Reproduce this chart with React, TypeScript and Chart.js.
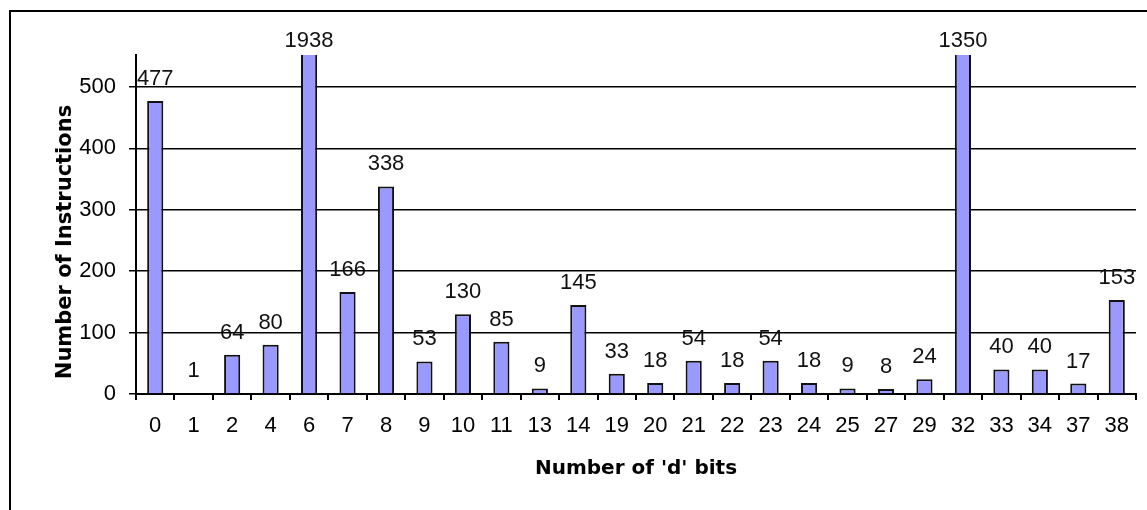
import React, { useEffect, useRef } from "react";
import { Chart, registerables } from "chart.js";

Chart.register(...registerables);

const categories = ["0", "1", "2", "4", "6", "7", "8", "9", "10", "11", "13", "14", "19", "20", "21", "22", "23", "24", "25", "27", "29", "32", "33", "34", "37", "38"];
const counts = [477, 1, 64, 80, 1938, 166, 338, 53, 130, 85, 9, 145, 33, 18, 54, 18, 54, 18, 9, 8, 24, 1350, 40, 40, 17, 153];
const yTickValues = [0, 100, 200, 300, 400, 500];
const yMax = 552;
const xTitle = "Number of 'd' bits";
const yTitle = "Number of Instructions";

const W = 1147;
const H = 510;
const numFont = "'Liberation Sans', Arial, sans-serif";
const titleFont = "'DejaVu Sans', Verdana, sans-serif";

const framePlugin = {
  id: "frame",
  beforeDraw(chart: any) {
    const ctx = chart.ctx;
    ctx.save();
    ctx.strokeStyle = "#000";
    ctx.lineWidth = 2;
    ctx.beginPath();
    ctx.moveTo(10, H);
    ctx.lineTo(10, 11);
    ctx.lineTo(W, 11);
    ctx.stroke();
    ctx.restore();
  },
};

const valueLabelPlugin = {
  id: "valueLabels",
  afterDatasetsDraw(chart: any) {
    const ctx = chart.ctx;
    const meta = chart.getDatasetMeta(0);
    const data = chart.data.datasets[0].data as number[];
    ctx.save();
    ctx.font = `22px ${numFont}`;
    ctx.fillStyle = "#111";
    ctx.textAlign = "center";
    ctx.textBaseline = "alphabetic";
    meta.data.forEach((el: any, i: number) => {
      const v = data[i];
      const y = v > yMax ? chart.chartArea.top - 8 : el.y - 16;
      ctx.fillText(String(v), el.x, y);
    });
    ctx.restore();
  },
};

const yTitlePlugin = {
  id: "yTitleDraw",
  afterDraw(chart: any) {
    const ctx = chart.ctx;
    ctx.save();
    ctx.translate(71, 242);
    ctx.rotate(-Math.PI / 2);
    ctx.font = `bold 21px ${titleFont}`;
    ctx.fillStyle = "#000";
    ctx.textAlign = "center";
    ctx.textBaseline = "alphabetic";
    ctx.fillText(yTitle, 0, 0);
    ctx.restore();
  },
};

export default function App() {
  const ref = useRef<HTMLCanvasElement | null>(null);

  useEffect(() => {
    if (!ref.current) return;
    const chart = new Chart(ref.current, {
      type: "bar",
      data: {
        labels: categories,
        datasets: [
          {
            data: counts,
            backgroundColor: "#9999FF",
            borderColor: "#111",
            borderWidth: 2,
            borderSkipped: "start",
            barPercentage: 0.42,
            categoryPercentage: 1,
          },
        ],
      },
      options: {
        responsive: false,
        animation: false,
        devicePixelRatio: 1,
        layout: { padding: { top: 55, right: 11, left: 0, bottom: 0 } },
        plugins: {
          legend: { display: false },
          tooltip: { enabled: false },
          title: { display: false },
        },
        scales: {
          x: {
            offset: true,
            grid: {
              offset: true,
              drawOnChartArea: false,
              drawTicks: true,
              tickLength: 6,
              color: "#000",
              lineWidth: 2,
            },
            border: { display: true, color: "#000", width: 2 },
            ticks: {
              color: "#000",
              font: { family: numFont, size: 22 },
              padding: 13,
              maxRotation: 0,
              autoSkip: false,
            },
            title: {
              display: true,
              text: xTitle,
              color: "#000",
              font: { family: titleFont, size: 20, weight: "bold" },
              padding: { top: 0, bottom: 29 },
            },
            afterFit(scale: any) {
              scale.height = H - 394;
            },
          },
          y: {
            min: 0,
            max: yMax,
            grid: {
              drawOnChartArea: true,
              drawTicks: true,
              tickLength: 7,
              color: "#000",
              lineWidth: 1.5,
            },
            border: { display: true, color: "#000", width: 2 },
            ticks: {
              color: "#000",
              font: { family: numFont, size: 22 },
              padding: 13,
              stepSize: 100,
            },
            afterBuildTicks(scale: any) {
              scale.ticks = yTickValues.map((v) => ({ value: v }));
            },
            afterFit(scale: any) {
              scale.width = 136;
            },
          },
        },
      },
      plugins: [framePlugin, valueLabelPlugin, yTitlePlugin],
    });
    return () => chart.destroy();
  }, []);

  return (
    <div style={{ position: "absolute", left: 0, top: 0, width: W, height: H, background: "#fff" }}>
      <canvas ref={ref} width={W} height={H} style={{ display: "block", width: W, height: H }} />
    </div>
  );
}
